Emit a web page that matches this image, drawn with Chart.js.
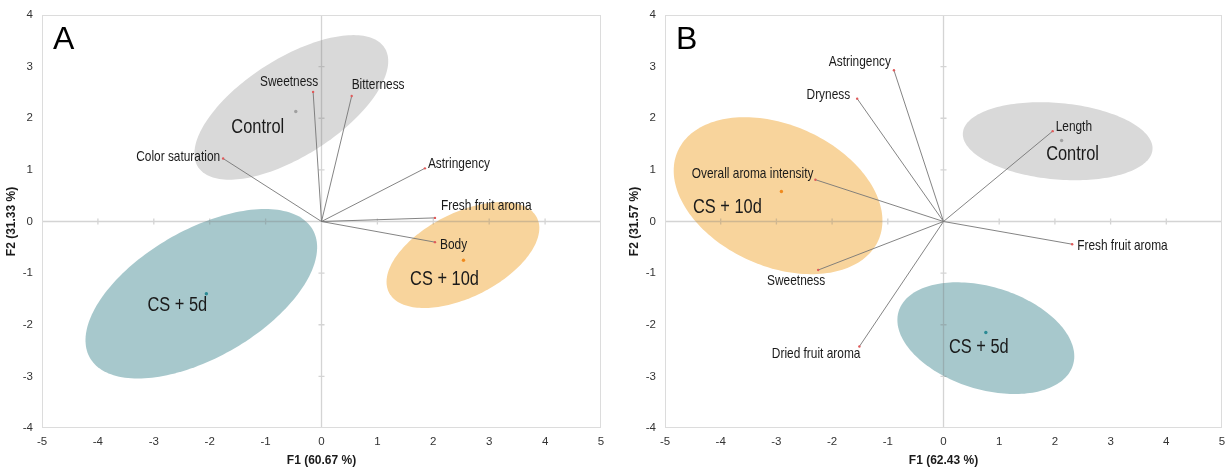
<!DOCTYPE html>
<html>
<head>
<meta charset="utf-8">
<script src="https://cdn.jsdelivr.net/npm/chart.js@4.4.1/dist/chart.umd.min.js"></script>
<style>
    html, body { margin: 0; padding: 0; background: #fff; }
    #wrap { position: relative; width: 1226px; height: 468px; }
    #boxA { position: absolute; left: 0; top: 0; width: 623px; height: 468px; }
    #boxB { position: absolute; left: 623px; top: 0; width: 603px; height: 468px; }
</style>
</head>
<body>
<div id="wrap">
    <div id="boxA"><canvas id="chartA"></canvas></div>
    <div id="boxB"><canvas id="chartB"></canvas></div>
</div>
<script>
// 軸範圍
const f1Range = [-5, 5];
const f2Range = [-4, 4];

// 圖 A：變數向量
const aVariables = ['Sweetness', 'Bitterness', 'Color saturation', 'Astringency', 'Fresh fruit aroma', 'Body'];
const aVarF1 = [-0.15, 0.54, -1.76, 1.85, 2.03, 2.03];
const aVarF2 = [2.51, 2.43, 1.22, 1.03, 0.07, -0.40];
// 圖 A：組別中心
const aGroups = ['Control', 'CS + 5d', 'CS + 10d'];
const aGroupF1 = [-0.46, -2.06, 2.54];
const aGroupF2 = [2.13, -1.40, -0.75];
// 圖 A：信賴橢圓（中心、半軸、旋轉角度）
const aEllCx = [-0.54, -2.15, 2.53];
const aEllCy = [2.21, -1.40, -0.65];
const aEllRx = [2.03, 2.35, 1.51];
const aEllRy = [0.92, 1.21, 0.80];
const aEllRot = [35.7, 33.4, 30.1];

// 圖 B：變數向量
const bVariables = ['Astringency', 'Dryness', 'Length', 'Overall aroma intensity', 'Fresh fruit aroma', 'Sweetness', 'Dried fruit aroma'];
const bVarF1 = [-0.89, -1.55, 1.96, -2.30, 2.31, -2.25, -1.51];
const bVarF2 = [2.93, 2.38, 1.75, 0.81, -0.44, -0.94, -2.42];
// 圖 B：組別中心
const bGroups = ['Control', 'CS + 5d', 'CS + 10d'];
const bGroupF1 = [2.12, 0.76, -2.91];
const bGroupF2 = [1.57, -2.15, 0.58];
// 圖 B：信賴橢圓
const bEllCx = [2.05, 0.76, -2.97];
const bEllCy = [1.555, -2.26, 0.50];
const bEllRx = [1.71, 1.65, 2.0];
const bEllRy = [0.74, 0.985, 1.35];
const bEllRot = [-5.7, -19.8, -28.3];

// 樣式
const FONT = '"Liberation Sans", Arial, sans-serif';
const groupFill = { 'Control': '#d9d9d9', 'CS + 5d': '#a7c8cc', 'CS + 10d': '#f8d49c' };
const groupDot = { 'Control': '#a0a0a0', 'CS + 5d': '#2b8a94', 'CS + 10d': '#f08a1e' };

// 檢查窄體字型是否存在
function hasFont(name) {
    const c = document.createElement('canvas').getContext('2d');
    c.font = '20px monospace';
    const w0 = c.measureText('Fresh fruit aroma').width;
    c.font = `20px "${name}", monospace`;
    return c.measureText('Fresh fruit aroma').width !== w0;
}
const NARROW = hasFont('Liberation Sans Narrow');
const NARROW_FONT = '"Liberation Sans Narrow", "Liberation Sans", Arial, sans-serif';
const titleFont = NARROW ? { family: NARROW_FONT, size: 14.5, weight: 'bold' } : { family: FONT, size: 12, weight: 'bold' };

// 窄字文字（沒有窄體時以水平縮放代替）
function narrowText(ctx, text, x, y, size, align) {
    ctx.textAlign = align;
    if (NARROW) {
        ctx.font = `${size}px ${NARROW_FONT}`;
        ctx.fillText(text, x, y);
    } else {
        ctx.save();
        ctx.translate(x, y);
        ctx.scale(0.82, 1);
        ctx.font = `${size}px ${FONT}`;
        ctx.fillText(text, 0, 0);
        ctx.restore();
    }
}

// 標籤位置（相對端點的像素偏移）
const labelPlaceA = {
    'Sweetness': ['center', -24, -10],
    'Bitterness': ['left', 0, -11],
    'Color saturation': ['right', -3, -2],
    'Astringency': ['left', 3, -4],
    'Fresh fruit aroma': ['left', 6, -12],
    'Body': ['left', 5, 3]
};
const groupPlaceA = { 'Control': [-38, 16], 'CS + 5d': [-29, 12], 'CS + 10d': [-19, 19] };

const labelPlaceB = {
    'Astringency': ['right', -3, -8],
    'Dryness': ['right', -7, -4],
    'Length': ['left', 3, -4],
    'Overall aroma intensity': ['right', -2, -6],
    'Fresh fruit aroma': ['left', 5, 2],
    'Sweetness': ['center', -22, 11],
    'Dried fruit aroma': ['right', 1, 8]
};
const groupPlaceB = { 'Control': [11, 14], 'CS + 5d': [-7, 15], 'CS + 10d': [-54, 16] };

// 背景：橢圓、外框、零軸
const biplotBack = {
    id: 'biplotBack',
    beforeDatasetsDraw(chart, args, o) {
        const { ctx, chartArea: ca, scales: { x, y } } = chart;
        const p = o.panel;
        ctx.save();
        ctx.beginPath();
        ctx.rect(ca.left, ca.top, ca.right - ca.left, ca.bottom - ca.top);
        ctx.clip();
        p.groups.forEach((g, i) => {
            const t = p.rot[i] * Math.PI / 180;
            ctx.beginPath();
            for (let k = 0; k <= 180; k++) {
                const a = k / 180 * Math.PI * 2;
                const ex = p.rx[i] * Math.cos(a), ey = p.ry[i] * Math.sin(a);
                const vx = p.cx[i] + ex * Math.cos(t) - ey * Math.sin(t);
                const vy = p.cy[i] + ex * Math.sin(t) + ey * Math.cos(t);
                const px = x.getPixelForValue(vx), py = y.getPixelForValue(vy);
                if (k === 0) ctx.moveTo(px, py); else ctx.lineTo(px, py);
            }
            ctx.closePath();
            ctx.fillStyle = groupFill[g];
            ctx.fill();
        });
        ctx.restore();

        ctx.save();
        // 零軸
        const x0 = x.getPixelForValue(0), y0 = y.getPixelForValue(0);
        ctx.strokeStyle = 'rgba(120,120,120,0.32)';
        ctx.lineWidth = 1.3;
        ctx.beginPath();
        ctx.moveTo(ca.left, y0); ctx.lineTo(ca.right, y0);
        ctx.moveTo(x0, ca.top); ctx.lineTo(x0, ca.bottom);
        for (let v = f1Range[0] + 1; v < f1Range[1]; v++) {
            if (v === 0) continue;
            const px = x.getPixelForValue(v);
            ctx.moveTo(px, y0 - 3); ctx.lineTo(px, y0 + 3);
        }
        for (let v = f2Range[0] + 1; v < f2Range[1]; v++) {
            if (v === 0) continue;
            const py = y.getPixelForValue(v);
            ctx.moveTo(x0 - 3, py); ctx.lineTo(x0 + 3, py);
        }
        ctx.stroke();
        // 外框
        ctx.strokeStyle = '#dcdcdc';
        ctx.lineWidth = 1;
        ctx.strokeRect(ca.left + 0.5, ca.top + 0.5, ca.right - ca.left - 1, ca.bottom - ca.top - 1);
        ctx.restore();
    },
    afterDatasetsDraw(chart, args, o) {
        const { ctx, chartArea: ca, scales: { x, y } } = chart;
        const p = o.panel;
        ctx.save();
        ctx.fillStyle = '#1a1a1a';
        ctx.textBaseline = 'middle';
        p.vars.forEach((v, i) => {
            const [al, dx, dy] = p.place[v];
            narrowText(ctx, v, x.getPixelForValue(p.f1[i]) + dx, y.getPixelForValue(p.f2[i]) + dy, 14.5, al);
        });
        p.groups.forEach((g, i) => {
            const [dx, dy] = p.gplace[g];
            narrowText(ctx, g, x.getPixelForValue(p.gf1[i]) + dx, y.getPixelForValue(p.gf2[i]) + dy, 20, 'center');
        });
        // 面板字母
        ctx.font = '32px ' + FONT;
        ctx.textAlign = 'left';
        ctx.textBaseline = 'alphabetic';
        ctx.fillStyle = '#000';
        ctx.fillText(p.letter, ca.left + 11, ca.top + 34);
        ctx.restore();
    }
};

function makeChart(canvasId, p, rightPad) {
    const datasets = p.vars.map((v, i) => ({
        type: 'line',
        label: v,
        data: [{ x: 0, y: 0 }, { x: p.f1[i], y: p.f2[i] }],
        borderColor: '#767676',
        borderWidth: 0.9,
        pointRadius: [0, 1.2],
        pointBackgroundColor: '#e05a5a',
        pointBorderWidth: 0,
        fill: false
    }));
    datasets.push({
        type: 'scatter',
        label: 'groups',
        data: p.groups.map((g, i) => ({ x: p.gf1[i], y: p.gf2[i] })),
        pointRadius: 1.7,
        pointBorderWidth: 0,
        pointBackgroundColor: p.groups.map(g => groupDot[g])
    });

    return new Chart(document.getElementById(canvasId), {
        type: 'scatter',
        data: { datasets },
        options: {
            responsive: true,
            maintainAspectRatio: false,
            animation: false,
            events: [],
            layout: { padding: { left: 0, right: rightPad, top: 15, bottom: 0 } },
            plugins: {
                legend: { display: false },
                tooltip: { enabled: false },
                biplotBack: { panel: p }
            },
            scales: {
                x: {
                    type: 'linear', min: f1Range[0], max: f1Range[1],
                    ticks: { stepSize: 1, color: '#333', font: { family: FONT, size: 11.5 }, padding: 7, maxRotation: 0 },
                    grid: { display: false, drawTicks: false },
                    border: { display: false },
                    title: { display: true, text: p.xTitle, color: '#1a1a1a', font: titleFont, padding: { top: 0, bottom: 0 } },
                    afterFit: s => { s.height = 40; s.paddingLeft = 0; s.paddingRight = 0; }
                },
                y: {
                    type: 'linear', min: f2Range[0], max: f2Range[1],
                    ticks: { stepSize: 1, color: '#333', font: { family: FONT, size: 11.5 }, padding: 9 },
                    grid: { display: false, drawTicks: false },
                    border: { display: false },
                    title: { display: true, text: p.yTitle, color: '#1a1a1a', font: titleFont, padding: { top: 4, bottom: 0 } },
                    afterFit: s => { s.width = 42; s.paddingTop = 0; s.paddingBottom = 0; }
                }
            }
        },
        plugins: [biplotBack]
    });
}

makeChart('chartA', {
    letter: 'A', xTitle: 'F1 (60.67 %)', yTitle: 'F2 (31.33 %)',
    vars: aVariables, f1: aVarF1, f2: aVarF2, place: labelPlaceA,
    groups: aGroups, gf1: aGroupF1, gf2: aGroupF2, gplace: groupPlaceA,
    cx: aEllCx, cy: aEllCy, rx: aEllRx, ry: aEllRy, rot: aEllRot
}, 22);

makeChart('chartB', {
    letter: 'B', xTitle: 'F1 (62.43 %)', yTitle: 'F2 (31.57 %)',
    vars: bVariables, f1: bVarF1, f2: bVarF2, place: labelPlaceB,
    groups: bGroups, gf1: bGroupF1, gf2: bGroupF2, gplace: groupPlaceB,
    cx: bEllCx, cy: bEllCy, rx: bEllRx, ry: bEllRy, rot: bEllRot
}, 4);
</script>
</body>
</html>
